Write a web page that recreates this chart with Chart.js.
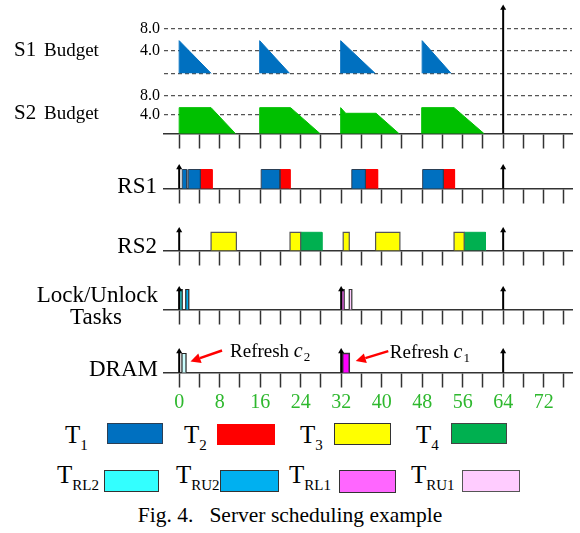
<!DOCTYPE html>
<html>
<head>
<meta charset="utf-8">
<script src="https://cdn.jsdelivr.net/npm/chart.js@4.4.1/dist/chart.umd.min.js"></script>
<style>
  html, body { margin: 0; padding: 0; background: #fff; }
  #wrap { position: relative; width: 580px; height: 533px; overflow: hidden;
          font-family: "Liberation Serif", "Times New Roman", serif; color: #000; }
  #c { position: absolute; left: 0; top: 0; }
  .lt { position: absolute; font-size: 25px; line-height: 25px; white-space: nowrap; }
  .lt sub { font-size: 15px; vertical-align: baseline; position: relative; top: 7px; }
  .lb { position: absolute; box-sizing: border-box; }
  #cap { position: absolute; left: 0; width: 580px; top: 503px; text-align: center;
         font-size: 21.5px; line-height: 24px; white-space: pre; }
</style>
</head>
<body>
<div id="wrap">
  <canvas id="c" width="580" height="420"></canvas>

  <div class="lt" style="left:65px;top:422px">T<sub>1</sub></div>
  <div class="lb" style="left:107px;top:423px;width:56px;height:21px;background:#0070C0;border:1px solid #2b3f55"></div>
  <div class="lt" style="left:184px;top:422px">T<sub>2</sub></div>
  <div class="lb" style="left:217px;top:424px;width:58px;height:21px;background:#FF0000"></div>
  <div class="lt" style="left:300px;top:422px">T<sub>3</sub></div>
  <div class="lb" style="left:334px;top:423px;width:57px;height:22px;background:#FFFF00;border:1px solid #333"></div>
  <div class="lt" style="left:416px;top:422px">T<sub>4</sub></div>
  <div class="lb" style="left:451px;top:423px;width:56px;height:21px;background:#00B050;border:1px solid #444"></div>

  <div class="lt" style="left:57px;top:462px">T<sub>RL2</sub></div>
  <div class="lb" style="left:104px;top:470px;width:55px;height:22px;background:#33FFFF;border:1px solid #333"></div>
  <div class="lt" style="left:176px;top:462px">T<sub>RU2</sub></div>
  <div class="lb" style="left:220px;top:470px;width:59px;height:22px;background:#00B0F0;border:1px solid #333"></div>
  <div class="lt" style="left:289px;top:462px">T<sub>RL1</sub></div>
  <div class="lb" style="left:339px;top:470px;width:57px;height:23px;background:#FF66FF;border:1px solid #333"></div>
  <div class="lt" style="left:411px;top:462px">T<sub>RU1</sub></div>
  <div class="lb" style="left:462px;top:470px;width:58px;height:22px;background:#FFCCFF;border:1px solid #555"></div>

  <div id="cap">Fig. 4.   Server scheduling example</div>
</div>

<script>
// ---------------- data ----------------
const timeTickLabels = [0, 8, 16, 24, 32, 40, 48, 56, 64, 72];
const timeTickStep = 4;
const budgetTicks = [4, 8];

// server budgets: polygons of [time, budget]
const s1Budget = [
  [[0, 0], [0, 5.8], [6.3, 0]],
  [[15.9, 0], [15.9, 5.8], [21.8, 0]],
  [[31.9, 0], [31.9, 5.8], [38.7, 0]],
  [[48.0, 0], [48.0, 5.8], [53.7, 0]]
];
const s2Budget = [
  [[0, 0], [0, 5.5], [6.3, 5.5], [11.1, 0]],
  [[15.9, 0], [15.9, 5.5], [22.0, 5.5], [27.8, 0]],
  [[31.9, 0], [31.9, 5.5], [32.9, 4.3], [38.9, 4.3], [43.4, 0]],
  [[47.9, 0], [47.9, 5.5], [54.3, 5.5], [60.2, 0]]
];

// execution intervals [start, end]
const rs1T1 = [[0.6, 1.5], [1.8, 4.2], [16.2, 19.9], [34.1, 36.8], [48.1, 52.2]];
const rs1T2 = [[4.2, 6.5], [19.9, 21.9], [36.8, 39.2], [52.2, 54.4]];
const rs2T3 = [[6.3, 11.3], [21.9, 24.0], [32.4, 33.6], [38.8, 43.6], [54.3, 56.3]];
const rs2T4 = [[24.0, 28.2], [56.3, 60.5]];
const lockRL2 = [[0, 0.6]];
const lockRU2 = [[1.3, 1.9]];
const lockRL1 = [[32.1, 32.6]];
const lockRU1 = [[33.6, 34.1]];
const dramRefreshC2 = [[0.55, 1.35]];
const dramRefreshC1 = [[32.3, 33.6]];

// release arrows (time)
const serverRelease = [64];
const rs1Release = [0, 64];
const rs2Release = [0, 64];
const lockRelease = [0, 32, 64];
const dramRelease = [0, 32, 64];

// ---------------- layout ----------------
const X_MIN = -3, X_MAX = 77.6;
const AXIS_W = 164;
const rows = {
  yS1:   { top: 4,   bottom: 84,  base: 73.3,  ppu: 5.625, weight: 6 },
  yS2:   { top: 84,  bottom: 152, base: 133.5, ppu: 4.7,   weight: 5 },
  yRS1:  { top: 152, bottom: 214, base: 188.5, ppu: 19,    weight: 4 },
  yRS2:  { top: 214, bottom: 274, base: 250.3, ppu: 18,    weight: 3 },
  yLock: { top: 274, bottom: 336, base: 309.5, ppu: 20,    weight: 2 },
  yDRAM: { top: 336, bottom: 392, base: 372.5, ppu: 19,    weight: 1 }
};
const SERIF = 'Liberation Serif';

const datasets = [];
function poly(points, yAxisID, fill, border, bw) {
  datasets.push({
    data: points.map(p => ({ x: p[0], y: p[1] })),
    xAxisID: 'x', yAxisID,
    backgroundColor: fill, borderColor: border || fill, borderWidth: bw || 1,
    fill: 'origin', pointRadius: 0, pointHoverRadius: 0, tension: 0, clip: false, order: 2
  });
}
function blocks(list, yAxisID, fill, border, bw) {
  list.forEach(([s, e]) => poly([[s, 0], [s, 1], [e, 1], [e, 0]], yAxisID, fill, border, bw));
}
function arrows(list, yAxisID, h) {
  list.forEach(t => datasets.push({
    data: [{ x: t, y: 0 }, { x: t, y: h }],
    xAxisID: 'x', yAxisID,
    borderColor: '#000', borderWidth: 2, fill: false, tension: 0,
    pointRadius: [0, 3.5], pointHoverRadius: 0, pointStyle: 'triangle',
    pointBackgroundColor: '#000', pointBorderColor: '#000', pointBorderWidth: 0,
    clip: false, order: 1
  }));
}

s1Budget.forEach(p => poly(p, 'yS1', '#0070C0'));
s2Budget.forEach(p => poly(p, 'yS2', '#00C000'));
blocks(rs1T1, 'yRS1', '#0070C0', '#2b3f55', 1);
blocks(rs1T2, 'yRS1', '#FF0000');
blocks(rs2T3, 'yRS2', '#FFFF00', '#555', 1.2);
blocks(rs2T4, 'yRS2', '#00B050');
blocks(lockRL2, 'yLock', '#33CCCC', '#222', 1.2);
blocks(lockRU2, 'yLock', '#00B0F0', '#222', 1.2);
blocks(lockRL1, 'yLock', '#FF66FF', '#333', 1.2);
blocks(lockRU1, 'yLock', '#FFCCFF', '#333', 1.2);
blocks(dramRefreshC2, 'yDRAM', '#CCFFFF', '#222', 1.2);
blocks(dramRefreshC1, 'yDRAM', '#FF00FF', '#333', 1.5);

const bigTop = (rows.yS2.base - (rows.yS1.top + 4)) / rows.yS2.ppu;
arrows(serverRelease, 'yS2', bigTop);
arrows(rs1Release, 'yRS1', 1.1);
arrows(rs2Release, 'yRS2', 1.1);
arrows(lockRelease, 'yLock', 1.0);
arrows(dramRelease, 'yDRAM', 1.1);

// ---------------- scales ----------------
const scales = {};
Object.entries(rows).forEach(([id, r]) => {
  const budget = id === 'yS1' || id === 'yS2';
  const cfg = {
    type: 'linear', axis: 'y', position: 'left',
    stack: 'rows', stackWeight: r.bottom - r.top, weight: r.weight,
    min: -(r.bottom - r.base) / r.ppu, max: (r.base - r.top) / r.ppu,
    afterFit: s => { s.width = AXIS_W; s.paddingTop = 0; s.paddingBottom = 0; },
    border: { display: false, dash: [4, 3] },
    grid: {
      display: budget, drawTicks: false, lineWidth: 1.2,
      color: c => (id === 'yS2' && c.tick && c.tick.value === 0) ? 'rgba(0,0,0,0)' : '#555'
    },
    ticks: {
      display: budget, padding: 4, autoSkip: false, color: '#000',
      font: { family: SERIF, size: 16 },
      callback: v => budgetTicks.includes(v) ? v.toFixed(1) : ''
    }
  };
  if (budget) cfg.afterBuildTicks = s => { s.ticks = [0].concat(budgetTicks).map(v => ({ value: v })); };
  scales[id] = cfg;
});
function xAxis(rowId, labels) {
  return {
    type: 'linear', axis: 'x', min: X_MIN, max: X_MAX,
    position: { [rowId]: 0 },
    afterFit: s => { s.paddingLeft = 0; s.paddingRight = 0; },
    grid: { display: true, drawOnChartArea: false, drawTicks: true, tickLength: 14,
            tickColor: '#333', tickWidth: 1.5 },
    border: { display: true, color: '#333', width: 1.5 },
    ticks: {
      stepSize: timeTickStep, includeBounds: false, autoSkip: false, maxRotation: 0,
      padding: 4, color: '#2EB82E', font: { family: SERIF, size: 20 },
      callback: labels ? (v => timeTickLabels.includes(v) ? String(v) : '') : (() => '')
    }
  };
}
scales.x = xAxis('yDRAM', true);
scales.xS2 = xAxis('yS2', false);
scales.xRS1 = xAxis('yRS1', false);
scales.xRS2 = xAxis('yRS2', false);
scales.xLock = xAxis('yLock', false);

// ---------------- labels & annotations ----------------
function runs(ctx, parts, x, y, align) {
  let total = 0;
  parts.forEach(p => { ctx.font = p.f; total += ctx.measureText(p.t).width + (p.gap || 0); });
  let cx = align === 'right' ? x - total : (align === 'center' ? x - total / 2 : x);
  parts.forEach(p => {
    ctx.font = p.f; ctx.textAlign = 'left';
    ctx.fillText(p.t, cx, y + (p.dy || 0));
    cx += ctx.measureText(p.t).width + (p.gap || 0);
  });
}
function redArrow(ctx, x1, y1, x2, y2) {
  const ang = Math.atan2(y2 - y1, x2 - x1), L = 10, W = 5;
  const bx = x2 - L * Math.cos(ang), by = y2 - L * Math.sin(ang);
  ctx.strokeStyle = '#FF0000'; ctx.fillStyle = '#FF0000'; ctx.lineWidth = 2.5;
  ctx.beginPath(); ctx.moveTo(x1, y1); ctx.lineTo(bx, by); ctx.stroke();
  ctx.beginPath(); ctx.moveTo(x2, y2);
  ctx.lineTo(bx + W * Math.sin(ang), by - W * Math.cos(ang));
  ctx.lineTo(bx - W * Math.sin(ang), by + W * Math.cos(ang));
  ctx.closePath(); ctx.fill();
}
const labelPlugin = {
  id: 'rowLabels',
  afterDraw(chart) {
    const ctx = chart.ctx, S = chart.scales;
    ctx.save();
    ctx.fillStyle = '#000'; ctx.textBaseline = 'alphabetic'; ctx.textAlign = 'left';
    const sFont = `21px "${SERIF}"`, bFont = `19px "${SERIF}"`;
    [['S1', S.yS1.getPixelForValue(0) - 17], ['S2', S.yS2.getPixelForValue(0) - 15]].forEach(([t, y]) => {
      ctx.font = sFont; ctx.fillText(t, 14, y);
      ctx.font = bFont; ctx.fillText('Budget', 44, y);
    });
    ctx.font = `23px "${SERIF}"`;
    ctx.textAlign = 'right';
    ctx.fillText('RS1', 157, S.yRS1.getPixelForValue(0) + 4.5);
    ctx.fillText('RS2', 157, S.yRS2.getPixelForValue(0) + 3);
    ctx.fillText('Lock/Unlock', 158, S.yLock.getPixelForValue(0) - 7.5);
    ctx.textAlign = 'center';
    ctx.fillText('Tasks', 96, S.yLock.getPixelForValue(0) + 14.5);
    ctx.textAlign = 'right';
    ctx.fillText('DRAM', 158, S.yDRAM.getPixelForValue(0) + 3.5);

    // refresh annotations
    const tip2x = S.x.getPixelForValue(dramRefreshC2[0][1]) + 4.5, tip2y = S.yDRAM.getPixelForValue(0.58);
    redArrow(ctx, tip2x + 31.5, tip2y - 11, tip2x, tip2y);
    const tip1x = S.x.getPixelForValue(dramRefreshC1[0][1]) + 6.5, tip1y = S.yDRAM.getPixelForValue(0.6);
    redArrow(ctx, tip1x + 32.5, tip1y - 10, tip1x, tip1y);
    ctx.fillStyle = '#000';
    const rf = `19px "${SERIF}"`, it = `italic 20px "${SERIF}"`, sb = `13px "${SERIF}"`;
    runs(ctx, [{ t: 'Refresh ', f: rf }, { t: 'c', f: it, gap: 1 }, { t: '2', f: sb, dy: 4 }], tip2x + 39.5, tip2y - 4, 'left');
    runs(ctx, [{ t: 'Refresh ', f: rf }, { t: 'c', f: it, gap: 1 }, { t: '1', f: sb, dy: 4 }], tip1x + 34, tip1y - 3, 'left');
    ctx.restore();
  }
};

new Chart(document.getElementById('c'), {
  type: 'line',
  data: { datasets },
  options: {
    responsive: false, animation: false, devicePixelRatio: 1,
    layout: { padding: { top: 4, bottom: 28, left: 0, right: 8 } },
    plugins: { legend: { display: false }, tooltip: { enabled: false } },
    events: [],
    scales
  },
  plugins: [labelPlugin]
});
</script>
</body>
</html>
